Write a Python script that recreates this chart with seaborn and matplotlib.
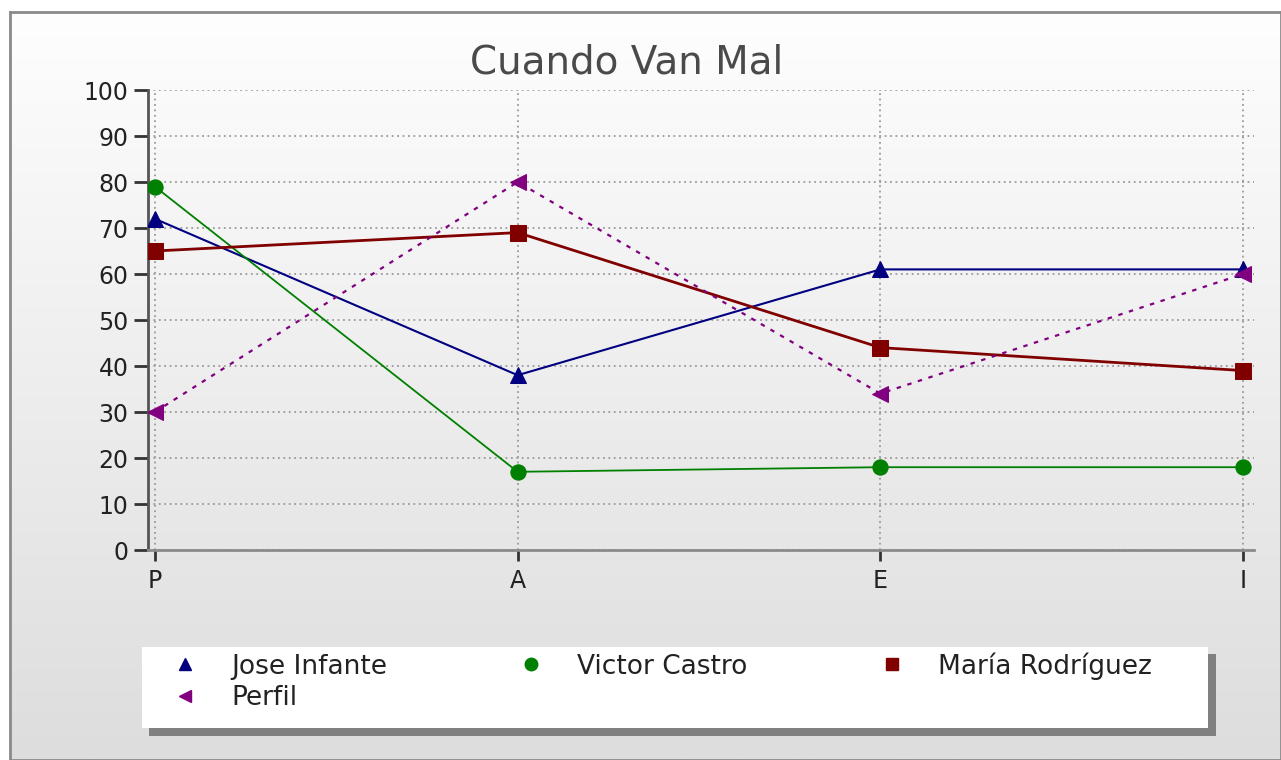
import numpy as np
import pandas as pd
import matplotlib
matplotlib.use("Agg")
import matplotlib.pyplot as plt
import seaborn as sns
from matplotlib.lines import Line2D
from matplotlib.patches import Rectangle
from matplotlib.colors import LinearSegmentedColormap

# ---------------- data ----------------
categories = ["P", "A", "E", "I"]
jose_infante = [72, 38, 61, 61]
victor_castro = [79, 17, 18, 18]
maria_rodriguez = [65, 69, 44, 39]
perfil = [30, 80, 34, 60]
series_names = ["Jose Infante", "Victor Castro", "María Rodríguez", "Perfil"]
y_ticks = list(range(0, 101, 10))
chart_title = "Cuando Van Mal"

# ---------------- style ----------------
sns.set_theme(style="white")
plt.rcParams['font.family'] = ['DejaVu Sans']

colors = ["#000080", "#008000", "#800000", "#800080"]
markers = ["^", "o", "s", "<"]
msizes = [11, 11, 12, 11]
lwidths = [1.5, 1.3, 2.0, 1.6]
lstyles = ["-", "-", "-", (0, (2, 3))]

W, H = 1281, 760
fig = plt.figure(figsize=(W / 100, H / 100), dpi=100)
fig.patch.set_facecolor("white")

# background gradient panel with border
bg = fig.add_axes([10 / W, 0, 1 - 10 / W, 1 - 12 / H], zorder=-10)
grad = np.linspace(0, 1, 256).reshape(-1, 1)
cmap = LinearSegmentedColormap.from_list("g", ["#fefefe", "#dddddd"])
bg.imshow(grad, cmap=cmap, aspect="auto", extent=[0, 1, 0, 1], origin="upper")
bg.set_xticks([]); bg.set_yticks([])
for s in bg.spines.values():
    s.set_color("#8a8a8a"); s.set_linewidth(2)

# main axes
ax = fig.add_axes([148 / W, 1 - 550 / H, (1254 - 148) / W, (550 - 90) / H])
ax.patch.set_alpha(0)

data_lists = [jose_infante, victor_castro, maria_rodriguez, perfil]
for name, vals, c, m, ms, lw, ls in zip(series_names, data_lists, colors, markers, msizes, lwidths, lstyles):
    df = pd.DataFrame({"cat": categories, "val": vals})
    sns.lineplot(data=df, x="cat", y="val", ax=ax, color=c, marker=m, markersize=ms,
                 markeredgecolor=c, linewidth=lw, linestyle=ls, sort=False, legend=False,
                 zorder=3)

ax.set_xlim(-0.019, 3.03)
ax.set_ylim(0, 100)
ax.set_yticks(y_ticks)
ax.set_xlabel(""); ax.set_ylabel("")
ax.grid(True, color="#9a9a9a", linestyle=(0, (1, 2)), linewidth=1.3)
for s in ["top", "right"]:
    ax.spines[s].set_visible(False)
ax.spines["left"].set_color("#555555"); ax.spines["left"].set_linewidth(2)
ax.spines["bottom"].set_color("#8a8a8a"); ax.spines["bottom"].set_linewidth(2)
ax.tick_params(axis="y", length=10, width=2, color="#333333", labelsize=17,
               labelcolor="#222222", pad=4, left=True)
ax.tick_params(axis="x", length=8, width=2, color="#333333", labelsize=17,
               labelcolor="#222222", pad=6, bottom=True)

fig.text(627 / W, 1 - 63 / H, chart_title, ha="center", va="center",
         fontsize=28, color="#4a4a4a")

# legend box with shadow
fig.add_artist(Rectangle((149 / W, 1 - 736 / H), (1216 - 149) / W, (736 - 654) / H,
                         transform=fig.transFigure, facecolor="#808080", edgecolor="none", zorder=1))
fig.add_artist(Rectangle((142 / W, 1 - 728 / H), (1208 - 142) / W, (728 - 647) / H,
                         transform=fig.transFigure, facecolor="white", edgecolor="none", zorder=2))

handles = [Line2D([], [], color=c, marker=m, linestyle="none", markersize=9)
           for c, m in zip(colors, markers)]
# column-major order so rows read: Jose, Victor, María / Perfil
order = [0, 3, 1, 2]
leg = fig.legend([handles[i] for i in order], [series_names[i] for i in order],
                 loc="upper left",
                 bbox_to_anchor=(172 / W, 1 - 652 / H), ncol=3, frameon=False,
                 fontsize=19, handlelength=1.0, handletextpad=1.25,
                 columnspacing=4.95, labelspacing=0.22, borderpad=0, borderaxespad=0)
leg.set_zorder(5)
for t in leg.get_texts():
    t.set_color("#222222")

fig.savefig("out.png", dpi=100)
